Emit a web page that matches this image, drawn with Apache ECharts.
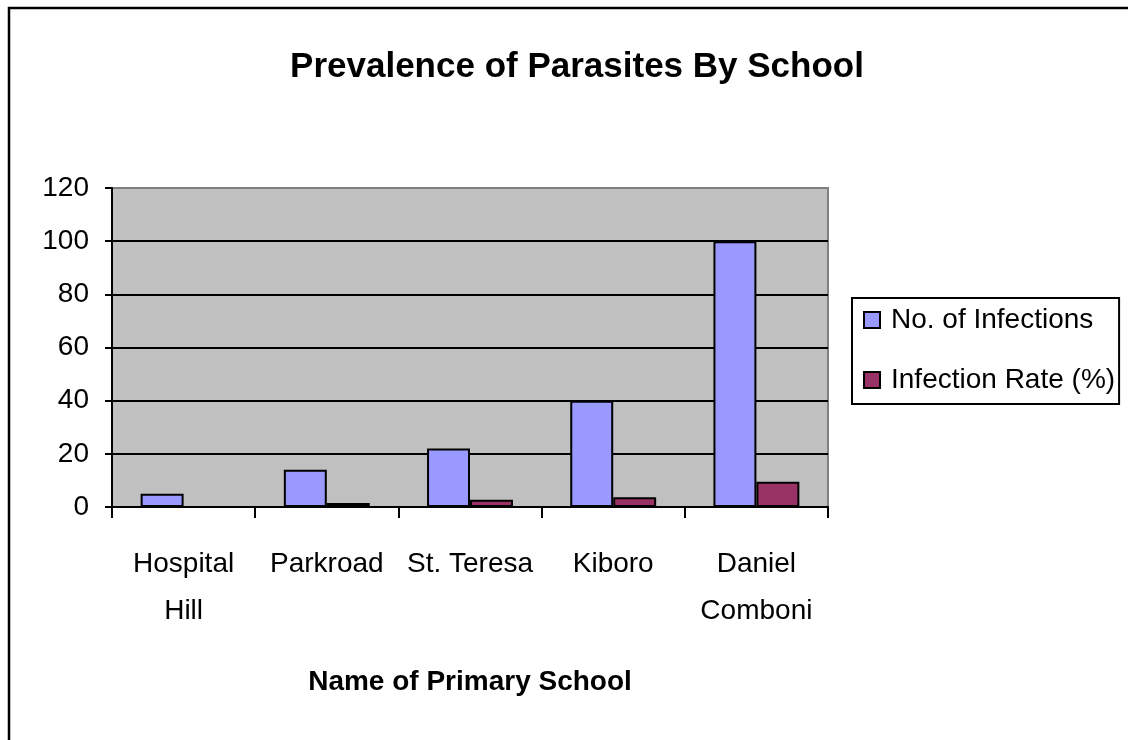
<!DOCTYPE html>
<html>
<head>
<meta charset="utf-8">
<script src="https://cdn.jsdelivr.net/npm/echarts@6/dist/echarts.min.js"></script>
<style>
    html, body { margin: 0; padding: 0; background: #fff; }
    #chart { width: 1128px; height: 740px; }
</style>
</head>
<body>
<div id="chart"></div>
<script>
// 学校寄生虫感染情况
var schools = ['Hospital\nHill', 'Parkroad', 'St. Teresa', 'Kiboro', 'Daniel\nComboni'];
var infections = [5, 14, 22, 40, 100];
var infectionRate = [0, 1.5, 2.7, 3.7, 9.5];
var yTicks = [0, 20, 40, 60, 80, 100, 120];

var fontFamily = '"Liberation Sans", Arial, sans-serif';

// 最上面那条(120)是绘图区边框, 灰色
var splitColors = yTicks.map(function (v, i) {
    return i === yTicks.length - 1 ? '#808080' : '#000';
});

var chart = echarts.init(document.getElementById('chart'));
option = {
    backgroundColor: '#fff',
    animation: false,
    title: {
        text: 'Prevalence of Parasites By School',
        left: 572,
        textAlign: 'center',
        top: 45,
        textStyle: {
            color: '#000',
            fontFamily: fontFamily,
            fontWeight: 'bold',
            fontSize: 35
        }
    },
    graphic: [
        {
            // 外框
            type: 'rect',
            shape: { x: 9, y: 8, width: 1140, height: 760 },
            style: { fill: 'none', stroke: '#000', lineWidth: 2.5 },
            silent: true
        }
    ],
    legend: {
        orient: 'vertical',
        left: 852,
        top: 298,
        padding: [8, 4, 10, 11],
        itemGap: 32,
        itemWidth: 16,
        itemHeight: 16,
        borderColor: '#000',
        borderWidth: 2,
        icon: 'rect',
        textStyle: {
            color: '#000',
            fontFamily: fontFamily,
            fontSize: 28,
            padding: [0, 0, 0, 6]
        },
        data: ['No. of Infections', 'Infection Rate (%)']
    },
    grid: {
        left: 112,
        top: 188,
        right: 300,
        bottom: 233,
        show: true,
        backgroundColor: '#C0C0C0',
        borderColor: '#808080',
        borderWidth: 2
    },
    xAxis: {
        type: 'category',
        data: schools,
        name: 'Name of Primary School',
        nameLocation: 'middle',
        nameGap: 161,
        nameTextStyle: {
            color: '#000',
            fontFamily: fontFamily,
            fontWeight: 'bold',
            fontSize: 28
        },
        axisLine: {
            lineStyle: { color: '#000', width: 2 }
        },
        axisTick: {
            show: true,
            alignWithLabel: false,
            length: 11,
            lineStyle: { color: '#000', width: 2 }
        },
        axisLabel: {
            interval: 0,
            color: '#000',
            fontFamily: fontFamily,
            fontSize: 28,
            lineHeight: 47,
            margin: 34
        }
    },
    yAxis: {
        type: 'value',
        min: yTicks[0],
        max: yTicks[yTicks.length - 1],
        interval: 20,
        axisLine: {
            show: true,
            lineStyle: { color: '#000', width: 2 }
        },
        axisTick: {
            show: true,
            length: 7,
            lineStyle: { color: '#000', width: 2 }
        },
        splitLine: {
            show: true,
            lineStyle: { color: splitColors, width: 2 }
        },
        axisLabel: {
            color: '#000',
            fontFamily: fontFamily,
            fontSize: 28,
            margin: 23
        }
    },
    series: [
        {
            name: 'No. of Infections',
            type: 'bar',
            barGap: 0,
            barCategoryGap: '40%',
            itemStyle: {
                color: '#9999FF',
                borderColor: '#000',
                borderWidth: 2
            },
            data: infections
        },
        {
            name: 'Infection Rate (%)',
            type: 'bar',
            barGap: 0,
            barCategoryGap: '40%',
            itemStyle: {
                color: '#993366',
                borderColor: '#000',
                borderWidth: 2
            },
            data: infectionRate
        }
    ]
};
chart.setOption(option);
</script>
</body>
</html>
